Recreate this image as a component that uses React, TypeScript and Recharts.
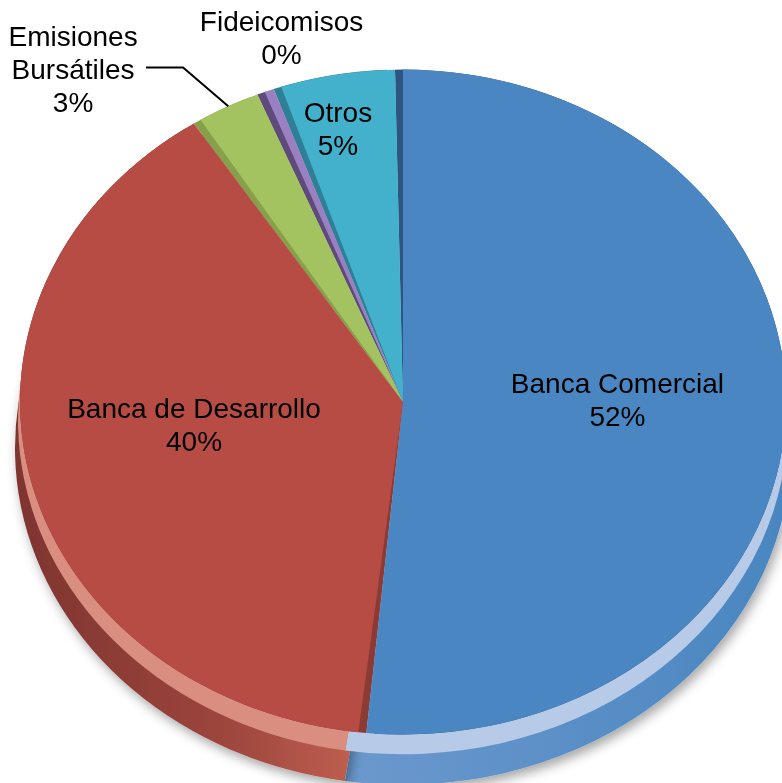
import React from 'react'
import { PieChart, Pie, Cell } from 'recharts'

// shares of funding sources (percent)
const categories = ['Banca Comercial', 'Banca de Desarrollo', 'Emisiones Bursátiles', 'Fideicomisos', 'Otros']
const shares = [52.4, 39.6, 2.7, 0.4, 4.9]
const labelLines = [['Banca Comercial'], ['Banca de Desarrollo'], ['Emisiones', 'Bursátiles'], ['Fideicomisos'], ['Otros']]

const topColors = ['#4A87C2', '#B64C44', '#A2C35F', '#9A80C0', '#43B0CC']
const cutColors = ['#2E5481', '#8C3A34', '#86A04B', '#5F4B7B', '#2F8096']
const bevelColors = ['#B7CAE8', '#D98E7F', '#C9DDA0', '#C3B3DC', '#9ED6E4']
const sideColors = ['url(#sideBlue)', 'url(#sideRed)', '#7F9A48', '#6B5589', '#358FA5']

// [clockwise angle nudge, radius factor] per label
const labelPlacement = [[-3.4, 0.56], [6.0, 0.55], [-13.6, 1.32], [4.3, 1.14], [-1.8, 0.84]]

const data = categories.map((name, i) => ({ name, value: shares[i] }))

const W = 782
const H = 783
const TILT = 0.868
const CX = 403
const CY = 402 / TILT
const R = 383
const PAD = 1.2
const LINE = 33
const RAD = Math.PI / 180
const font = '"Liberation Sans", Arial, sans-serif'

function PieLabel(props: any) {
  const { cx, cy, midAngle, outerRadius, percent, index } = props
  const [nudge, factor] = labelPlacement[index]
  const cw = 90 - midAngle + nudge
  const x = cx + Math.sin(cw * RAD) * outerRadius * factor
  const y = cy - Math.cos(cw * RAD) * outerRadius * factor
  const lines = [...labelLines[index], `${Math.round(percent * 100)}%`]
  const n = lines.length
  let leader = null
  if (index === 2) {
    const mcw = 90 - midAngle
    const ox = cx + Math.sin(mcw * RAD) * outerRadius
    const oy = cy - Math.cos(mcw * RAD) * outerRadius
    leader = (
      <polyline
        points={`${ox - x},${(oy - y) * TILT} 110,-2 73,-2`}
        fill="none" stroke="#000" strokeWidth={2}
      />
    )
  }
  return (
    <g transform={`translate(${x},${y}) scale(1,${1 / TILT})`}>
      {leader}
      {lines.map((t, i) => (
        <text key={i} x={0} y={(i - (n - 1) / 2) * LINE}
          textAnchor="middle" dominantBaseline="central"
          fontSize={28} fontFamily={font} fill="#000">
          {t}
        </text>
      ))}
    </g>
  )
}

export default function App() {
  return (
    <div style={{ position: 'absolute', left: 0, top: 0, width: W, height: H, overflow: 'hidden', background: '#fff' }}>
      <div style={{ transform: `scaleY(${TILT})`, transformOrigin: '0 0' }}>
        <PieChart width={W} height={Math.ceil(H / TILT)} margin={{ top: 0, right: 0, bottom: 0, left: 0 }}>
          <defs>
            <linearGradient id="sideRed" gradientUnits="userSpaceOnUse" x1={13} y1={0} x2={360} y2={0}>
              <stop offset="0%" stopColor="#7E342F" />
              <stop offset="60%" stopColor="#9C453D" />
              <stop offset="100%" stopColor="#C0604F" />
            </linearGradient>
            <linearGradient id="sideBlue" gradientUnits="userSpaceOnUse" x1={360} y1={0} x2={782} y2={0}>
              <stop offset="0%" stopColor="#6A98CD" />
              <stop offset="100%" stopColor="#4A86C0" />
            </linearGradient>
            <filter id="pieShadow" x="-10%" y="-10%" width="120%" height="130%">
              <feDropShadow dx="3" dy="6" stdDeviation="6" floodColor="#000" floodOpacity="0.35" />
            </filter>
          </defs>

          {/* side wall */}
          <Pie data={data} dataKey="value" cx={CX} cy={CY + 46 / TILT} outerRadius={R + 5}
            startAngle={90} endAngle={-270} stroke="none" isAnimationActive={false}>
            {data.map((d, i) => <Cell key={d.name} fill={sideColors[i]} filter="url(#pieShadow)" />)}
          </Pie>

          {/* bevel */}
          <Pie data={data} dataKey="value" cx={CX} cy={CY + 18 / TILT} outerRadius={R + 2}
            startAngle={90} endAngle={-270} stroke="none" isAnimationActive={false}>
            {data.map((d, i) => <Cell key={d.name} fill={bevelColors[i]} />)}
          </Pie>

          {/* cut faces */}
          <Pie data={data} dataKey="value" cx={CX} cy={CY} outerRadius={R}
            startAngle={90 + PAD} endAngle={-270 + PAD} paddingAngle={PAD}
            stroke="none" isAnimationActive={false}>
            {data.map((d, i) => <Cell key={d.name} fill={cutColors[i]} />)}
          </Pie>

          {/* top face */}
          <Pie data={data} dataKey="value" cx={CX} cy={CY} outerRadius={R}
            startAngle={90} endAngle={-270} paddingAngle={PAD}
            stroke="none" label={PieLabel} labelLine={false} isAnimationActive={false}>
            {data.map((d, i) => <Cell key={d.name} fill={topColors[i]} />)}
          </Pie>
        </PieChart>
      </div>
    </div>
  )
}
